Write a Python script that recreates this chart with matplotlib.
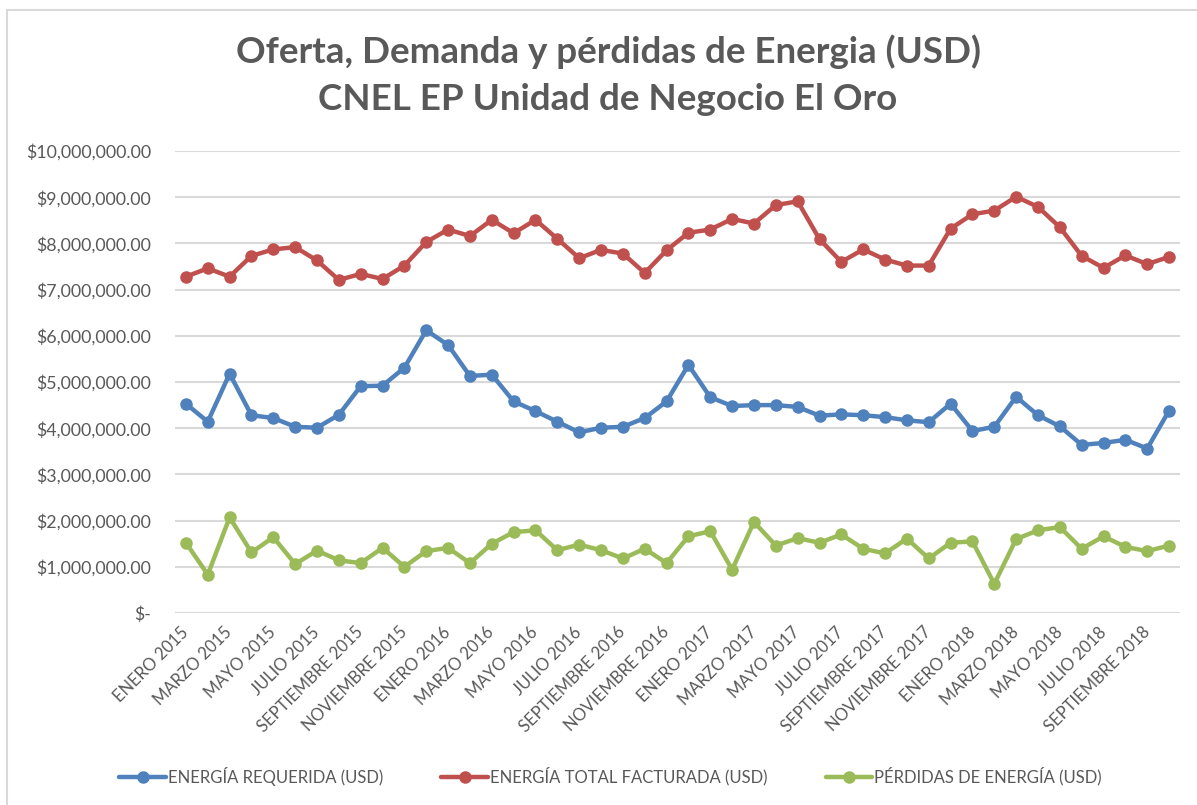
"""Oferta, demanda y pérdidas de energía - CNEL EP El Oro (2015-2018)."""
import numpy as np
import matplotlib.pyplot as plt
import matplotlib.ticker as mticker
from matplotlib.patches import Rectangle

# ── Datos (USD) ──────────────────────────────────────────────────────────
meses = ['ENERO', 'FEBRERO', 'MARZO', 'ABRIL', 'MAYO', 'JUNIO', 'JULIO',
         'AGOSTO', 'SEPTIEMBRE', 'OCTUBRE', 'NOVIEMBRE', 'DICIEMBRE']
periodos = [f'{m} {a}' for a in (2015, 2016, 2017) for m in meses] + \
           [f'{m} 2018' for m in meses[:10]]

energia_requerida = [
    4.53, 4.14, 5.18, 4.28, 4.22, 4.03, 4.01, 4.29, 4.91, 4.92, 5.31, 6.12,
    5.80, 5.13, 5.16, 4.58, 4.37, 4.14, 3.91, 4.01, 4.03, 4.22, 4.58, 5.37,
    4.67, 4.48, 4.50, 4.50, 4.46, 4.27, 4.30, 4.28, 4.24, 4.17, 4.13, 4.53,
    3.94, 4.03, 4.68, 4.28, 4.04, 3.64, 3.68, 3.75, 3.56, 4.38]
energia_facturada = [
    7.28, 7.46, 7.28, 7.73, 7.87, 7.92, 7.63, 7.21, 7.34, 7.23, 7.52, 8.03,
    8.30, 8.16, 8.51, 8.22, 8.51, 8.10, 7.68, 7.86, 7.78, 7.36, 7.85, 8.23,
    8.30, 8.53, 8.43, 8.83, 8.91, 8.09, 7.60, 7.87, 7.65, 7.52, 7.52, 8.32,
    8.63, 8.71, 9.01, 8.79, 8.35, 7.73, 7.47, 7.74, 7.55, 7.71]
perdidas = [
    1.52, 0.83, 2.07, 1.31, 1.64, 1.06, 1.35, 1.14, 1.08, 1.41, 1.00, 1.34,
    1.41, 1.08, 1.50, 1.75, 1.79, 1.36, 1.48, 1.36, 1.18, 1.39, 1.08, 1.66,
    1.77, 0.94, 1.97, 1.46, 1.62, 1.52, 1.70, 1.39, 1.29, 1.61, 1.18, 1.52,
    1.55, 0.63, 1.60, 1.79, 1.86, 1.39, 1.66, 1.43, 1.34, 1.46]

series = [('ENERGÍA REQUERIDA (USD)', energia_requerida, '#4F81BD'),
          ('ENERGÍA TOTAL FACTURADA (USD)', energia_facturada, '#C0504D'),
          ('PÉRDIDAS DE ENERGÍA (USD)', perdidas, '#9BBB59')]

plt.rcParams['font.family'] = ['Lato', 'DejaVu Sans']
TXT = '#595959'

fig = plt.figure(figsize=(11.97, 8.05), dpi=100)
fig.patches.append(Rectangle((7 / 1197, -0.01), 1.1, 1 - 10 / 805 + 0.01,
                             transform=fig.transFigure, fill=False,
                             edgecolor='#D9D9D9', lw=1.5))

ax = fig.add_axes([175 / 1197, 1 - 613 / 805, (1180 - 175) / 1197, (613 - 151) / 805])
x = np.arange(len(periodos))
for nombre, vals, col in series:
    ax.plot(x, np.array(vals) * 1e6, color=col, lw=3.2, marker='o', ms=8,
            label=nombre, solid_capstyle='round')

ax.set_ylim(0, 10e6)
ax.set_xlim(-0.5, len(periodos) - 0.5)
ax.yaxis.set_major_locator(mticker.MultipleLocator(1e6))
ax.yaxis.set_major_formatter(mticker.FuncFormatter(
    lambda v, _: '$-' if v == 0 else f'${v:,.2f}'))
ax.grid(axis='y', color='#D9D9D9', lw=1.5)
ax.set_axisbelow(True)
for s in ax.spines.values():
    s.set_visible(False)
ax.tick_params(axis='both', length=0, colors=TXT)
ax.tick_params(axis='y', pad=17, labelsize=12.8)

ax.set_xticks(x[::2])
ax.set_xticklabels(periodos[::2], rotation=45, ha='right', va='center',
                   rotation_mode='anchor', fontsize=12, color=TXT)
ax.tick_params(axis='x', pad=12)

fig.text(0.508, 1 - 52 / 805, 'Oferta, Demanda y pérdidas de Energia (USD)',
         ha='center', va='center', fontsize=26.5, fontweight='bold', color=TXT)
fig.text(0.508, 1 - 100 / 805, 'CNEL EP Unidad de Negocio El Oro',
         ha='center', va='center', fontsize=26.5, fontweight='bold', color=TXT)

leg = fig.legend(loc='center', bbox_to_anchor=(0.51, 1 - 776 / 805), ncol=3,
                 frameon=False, fontsize=12, handlelength=2.8, handletextpad=0.1,
                 columnspacing=3.5, labelcolor=TXT)

plt.savefig('out.png', dpi=100)
